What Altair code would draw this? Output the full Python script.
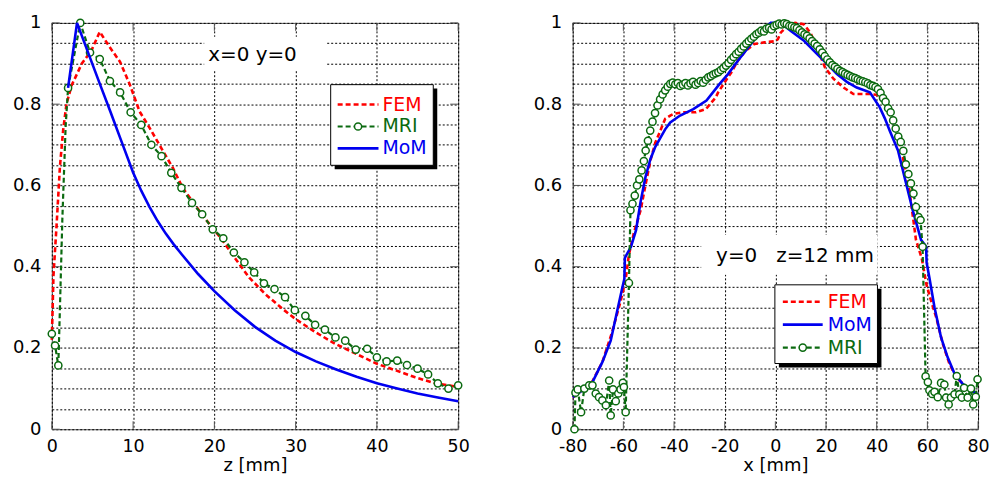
import altair as alt
import pandas as pd

# ---------------- left panel: profile along z at x=0, y=0 ----------------
FEM_L_Z = [0.0, 0.2, 0.6, 1.0, 1.4, 1.8, 2.45, 3.7, 4.9, 5.9, 7.1, 8.4, 9.6, 10.8, 12.05,
           13.7, 14.9, 16.1, 18.6, 21.0, 22.2, 24.3, 26.3, 28.4, 30.0, 32.5, 34.9, 37.4,
           40.0, 42.3, 44.7, 47.2, 50.0]
FEM_L_V = [0.22, 0.377, 0.507, 0.647, 0.737, 0.80, 0.847, 0.90, 0.933, 0.978, 0.941, 0.904,
           0.848, 0.782, 0.741, 0.684, 0.643, 0.594, 0.525, 0.465, 0.43, 0.373, 0.332, 0.296,
           0.271, 0.238, 0.21, 0.186, 0.161, 0.145, 0.128, 0.113, 0.104]

MRI_L_Z = [0.0, 0.4, 0.8, 1.0, 1.3, 1.7, 2.0, 3.5, 4.7, 5.9, 7.15, 8.4, 9.7, 11.0, 12.25,
           13.5, 14.7, 15.95, 17.25, 18.5, 19.8, 21.1, 22.4, 23.7, 24.9, 26.1, 27.4, 28.7,
           29.9, 31.2, 32.4, 33.6, 34.9, 36.1, 37.4, 38.8, 40.0, 41.2, 42.5, 43.7, 45.0,
           46.3, 47.5, 48.8, 50.0]
MRI_L_V = [0.235, 0.206, 0.157, 0.30, 0.52, 0.745, 0.84, 1.0, 0.927, 0.911, 0.857, 0.829,
           0.78, 0.749, 0.70, 0.672, 0.631, 0.594, 0.557, 0.529, 0.492, 0.47, 0.435, 0.411,
           0.386, 0.359, 0.345, 0.325, 0.293, 0.279, 0.257, 0.245, 0.226, 0.218, 0.196,
           0.198, 0.177, 0.167, 0.169, 0.158, 0.149, 0.135, 0.113, 0.10, 0.108]
MRI_L_MARK = [1, 1, 1, 0, 0, 0, 1, 1, 1, 1, 1, 1, 1, 1, 1, 1, 1, 1, 1, 1, 1, 1, 1, 1, 1,
              1, 1, 1, 1, 1, 1, 1, 1, 1, 1, 1, 1, 1, 1, 1, 1, 1, 1, 1, 1]

MOM_L_Z = [2.0, 3.1, 4.5, 6.0, 7.2, 8.5, 10.0, 11.0, 12.0, 13.0, 14.0, 15.0, 16.0, 18.0,
           20.0, 22.5, 25.0, 27.5, 30.0, 32.5, 35.0, 37.5, 40.0, 42.5, 45.0, 47.5, 50.0]
MOM_L_V = [0.84, 1.0, 0.925, 0.845, 0.782, 0.712, 0.632, 0.587, 0.548, 0.513, 0.482, 0.455,
           0.43, 0.382, 0.34, 0.293, 0.252, 0.218, 0.19, 0.167, 0.147, 0.129, 0.113, 0.1,
           0.088, 0.078, 0.069]

# ---------------- right panel: profile along x at y=0, z=12 mm ----------------
FEM_R_X = [-80, -76.1, -72.2, -68.3, -64.4, -61.1, -59.1, -57.8, -55.9, -53.2, -51.3, -49.3,
           -47.4, -45.4, -43.5, -41.5, -40.2, -36.3, -31.3, -27.4, -23.5, -22.6, -20.0,
           -17.4, -14.8, -12.0, -8.3, -4.4, 0.0, 1.0, 2.1, 4.8, 7.8, 11.2, 13.9, 17.0, 19.6,
           23.0, 26.9, 30.8, 34.7, 37.3, 40.0, 42.5, 44.5, 46.4, 48.4, 50.3, 52.9, 55.5,
           57.8, 59.6, 61.5, 63.5, 66.1, 68.7, 71.3, 74.0, 77.0, 80]
FEM_R_V = [0.078, 0.097, 0.118, 0.165, 0.24, 0.315, 0.368, 0.43, 0.482, 0.539, 0.60, 0.662,
           0.705, 0.735, 0.764, 0.772, 0.776, 0.78, 0.78, 0.788, 0.817, 0.829, 0.854, 0.878,
           0.907, 0.93, 0.948, 0.952, 0.955, 0.96, 0.976, 0.993, 1.0, 0.997, 0.975, 0.93,
           0.89, 0.862, 0.841, 0.825, 0.825, 0.825, 0.823, 0.809, 0.785, 0.752, 0.715, 0.67,
           0.588, 0.466, 0.42, 0.357, 0.315, 0.275, 0.21, 0.161, 0.128, 0.112, 0.097, 0.086]

MOM_R_X = [-80, -76.1, -72.2, -68.3, -65.0, -62.4, -60.4, -59.6, -59.4, -57.0, -55.0, -53.2,
           -51.3, -49.3, -47.4, -45.4, -43.5, -41.5, -37.6, -32.4, -27.2, -22.0, -18.7,
           -14.8, -9.6, -5.7, -1.8, 2.2, 6.1, 11.3, 16.5, 20.4, 24.3, 28.2, 32.1, 37.3,
           41.2, 43.2, 45.1, 48.4, 51.6, 54.2, 57.5, 59.5, 59.7, 60.8, 62.8, 65.4, 68.0,
           70.7, 73.9, 77.2, 80]
MOM_R_V = [0.079, 0.096, 0.116, 0.165, 0.218, 0.292, 0.349, 0.37, 0.422, 0.449, 0.49, 0.56,
           0.62, 0.665, 0.695, 0.717, 0.738, 0.755, 0.772, 0.788, 0.809, 0.85, 0.874, 0.907,
           0.948, 0.98, 1.0, 1.0, 0.98, 0.956, 0.923, 0.899, 0.874, 0.855, 0.841, 0.829,
           0.792, 0.765, 0.735, 0.686, 0.605, 0.539, 0.466, 0.449, 0.41, 0.373, 0.30, 0.226,
           0.177, 0.137, 0.112, 0.096, 0.086]

MRI_R_X = [-79.3, -78.9, -78.0, -76.7, -75.4, -73.5, -72.2, -70.9, -69.6, -68.3, -66.9,
           -65.6, -65.0, -64.1, -63.0, -62.0, -61.1, -60.2, -59.8, -59.1,
           -57.8, -57.2, -56.4, -55.5, -54.6, -53.7, -52.8, -51.9, -51.2, -50.3, -49.4,
           -48.5, -47.5, -46.5, -45.5, -44.5, -43.5, -42.5, -41.5, -40.5, -39.5, -38.5,
           -37.5, -36.5, -35.5, -34.5, -33.5, -32.5, -31.5, -30.5, -29.5, -28.5, -27.5,
           -26.5, -25.5, -24.5, -23.5, -22.5, -21.5, -20.5, -19.5, -18.5, -17.5, -16.5,
           -15.5, -14.5, -13.5, -12.5, -11.5, -10.5, -9.5, -8.5, -7.5, -6.5, -5.5, -4.5,
           -3.5, -2.5, -1.5, -0.5, 0.5, 1.5, 2.5, 3.5, 4.5, 5.5, 6.5, 7.5, 8.5, 9.5, 10.5,
           11.5, 12.5, 13.5, 14.5, 15.5, 16.5, 17.5, 18.5, 19.5, 20.5, 21.5, 22.5, 23.5,
           24.5, 25.5, 26.5, 27.5, 28.5, 29.5, 30.5, 31.5, 32.5, 33.5, 34.5, 35.5, 36.5,
           37.5, 38.5, 39.5, 40.5, 41.5, 42.5, 43.5, 44.5, 45.5, 46.5, 47.5, 48.5, 49.5,
           50.5, 51.5, 52.5, 53.5, 54.5, 55.5, 56.5, 57.3, 58.1,
           59.3, 60.2, 60.8, 61.9, 62.8, 64.1, 65.4, 66.7, 67.4, 68.4, 69.3, 70.7, 71.6,
           72.6, 73.6, 74.5, 75.9, 77.2, 78.1, 79.1, 79.8]
MRI_R_V = [0.0, 0.09, 0.098, 0.042, 0.10, 0.108, 0.108, 0.088, 0.079, 0.071, 0.059,
           0.12, 0.034, 0.098, 0.069, 0.088, 0.098, 0.114, 0.104, 0.042,
           0.36, 0.539, 0.555, 0.575, 0.60, 0.615, 0.637, 0.66, 0.686, 0.71, 0.735,
           0.757, 0.778, 0.797, 0.812, 0.824, 0.834, 0.843, 0.85, 0.853, 0.849, 0.852,
           0.845, 0.848, 0.852, 0.846, 0.851, 0.855, 0.848, 0.852, 0.857, 0.853, 0.86,
           0.866, 0.869, 0.873, 0.876, 0.879, 0.884, 0.889, 0.895, 0.901, 0.909, 0.916,
           0.923, 0.929, 0.936, 0.942, 0.949, 0.955, 0.961, 0.966, 0.972, 0.976, 0.981, 0.979,
           0.986, 0.988, 0.984, 0.992, 0.995, 0.998, 0.996, 0.999, 0.997, 0.993, 0.992, 0.989,
           0.987, 0.982, 0.977, 0.972, 0.968, 0.962, 0.955, 0.949, 0.943, 0.935, 0.927,
           0.918, 0.91, 0.903, 0.896, 0.892, 0.887, 0.882, 0.879, 0.875, 0.872, 0.869,
           0.866, 0.864, 0.861, 0.858, 0.856, 0.854, 0.851, 0.847, 0.845, 0.842, 0.837,
           0.828, 0.815, 0.806, 0.79, 0.78, 0.76, 0.74, 0.72, 0.707, 0.685, 0.652, 0.628,
           0.605, 0.58, 0.547, 0.522, 0.515, 0.449,
           0.13, 0.116, 0.096, 0.087, 0.092, 0.079, 0.114, 0.11, 0.078, 0.061, 0.078, 0.086,
           0.131, 0.086, 0.078, 0.102, 0.078, 0.10, 0.061, 0.08, 0.123]

# ---------------- axes, text ----------------
Y_GRID = [0, 0.05, 0.1, 0.15, 0.2, 0.25, 0.3, 0.35, 0.4, 0.45, 0.5, 0.55, 0.6, 0.65, 0.7,
          0.75, 0.8, 0.85, 0.9, 0.95, 1]
Y_LABELS = ["0", "0.2", "0.4", "0.6", "0.8", "1"]
Y_MAJOR = [0, 0.2, 0.4, 0.6, 0.8, 1]
X_MAJOR_L = [0, 10, 20, 30, 40, 50]
X_MAJOR_R = [-80, -60, -40, -20, 0, 20, 40, 60, 80]
X_TITLE_L = "z [mm]"
X_TITLE_R = "x [mm]"
NB = "\u00a0"
NOTE_L = "x=0" + NB + "y=0"
NOTE_R = "y=0" + NB * 3 + "z=12" + NB + "mm"
LEGEND_L = ["FEM", "MRI", "MoM"]
LEGEND_R = ["FEM", "MoM", "MRI"]

RED = "#ff0000"
GREEN = "#0b6a10"
BLUE = "#0000f0"
FRAME = "#555555"
FONT = "DejaVu Sans"
YLABEL_FS = 18
XLABEL_FS = 17.5
TITLE_FS = 18
NOTE_FS = 20
LEG_FS = 19
TICK = 8
STYLE = {
    "FEM": dict(color=RED, dash=[5, 3], width=2.6, marker=False),
    "MRI": dict(color=GREEN, dash=[5, 3], width=2.2, marker=True),
    "MoM": dict(color=BLUE, dash=None, width=2.6, marker=False),
}
ONE = pd.DataFrame({"k": [0]})


def line_mark(name):
    st = STYLE[name]
    kw = dict(color=st["color"], strokeWidth=st["width"])
    if st["dash"]:
        kw["strokeDash"] = st["dash"]
    return kw


def point_mark(name):
    return dict(shape="circle", size=52, filled=True, fill="white",
                stroke=STYLE[name]["color"], strokeWidth=1.5, opacity=1)


def panel(curves, xdom, xmajor, xtitle, W, H, note, note_box, note_xy,
          legend_order, legend_box, legend_rows, legend_line, legend_text_x):
    xs = alt.Scale(domain=xdom, nice=False, zero=False)
    ys = alt.Scale(domain=[0, 1], nice=False, zero=False)
    xax = alt.Axis(values=xmajor, title=xtitle, labelExpr="'' + datum.value",
                   labelFlush=False, labelOverlap=False, labelPadding=8,
                   labelFontSize=XLABEL_FS, titlePadding=2, grid=True)
    lab_list = ",".join("'%s'" % s for s in Y_LABELS)
    yax = alt.Axis(values=Y_GRID, format=".2~f", title=None, grid=True,
                   labelExpr="indexof([%s], datum.label) >= 0 ? datum.label : ''" % lab_list,
                   labelPadding=11, labelOverlap=False, labelFontSize=YLABEL_FS)

    def X():
        return alt.X("x:Q", scale=xs, axis=xax)

    def Y():
        return alt.Y("y:Q", scale=ys, axis=yax)

    layers = []
    yt = pd.DataFrame({"y": Y_MAJOR})
    xt = pd.DataFrame({"x": xmajor})
    layers.append(alt.Chart(yt).mark_rule(color=FRAME).encode(
        y=Y(), x=alt.value(0), x2=alt.value(TICK)))
    layers.append(alt.Chart(yt).mark_rule(color=FRAME).encode(
        y=Y(), x=alt.value(W - TICK), x2=alt.value(W)))
    layers.append(alt.Chart(xt).mark_rule(color=FRAME).encode(
        x=X(), y=alt.value(0), y2=alt.value(TICK)))
    layers.append(alt.Chart(xt).mark_rule(color=FRAME).encode(
        x=X(), y=alt.value(H - TICK), y2=alt.value(H)))

    for name, xv, vv, marks in curves:
        df = pd.DataFrame({"x": xv, "y": vv, "i": list(range(len(xv)))})
        layers.append(alt.Chart(df).mark_line(**line_mark(name)).encode(
            x=X(), y=Y(), order="i:Q"))
        if STYLE[name]["marker"]:
            dm = df if marks is None else df[[m == 1 for m in marks]]
            layers.append(alt.Chart(dm).mark_point(**point_mark(name)).encode(x=X(), y=Y()))

    # annotation with white background
    bx0, by0, bx1, by1 = note_box
    layers.append(alt.Chart(ONE).mark_rect(fill="white", opacity=1).encode(
        x=alt.value(bx0), x2=alt.value(bx1), y=alt.value(by0), y2=alt.value(by1)))
    layers.append(alt.Chart(ONE).mark_text(align="left", baseline="middle", font=FONT,
                                           fontSize=NOTE_FS, color="black").encode(
        x=alt.value(note_xy[0]), y=alt.value(note_xy[1]), text=alt.value(note)))

    # legend box with shadow
    lx0, ly0, lx1, ly1 = legend_box
    layers.append(alt.Chart(ONE).mark_rect(fill="black", opacity=1).encode(
        x=alt.value(lx0 + 4), x2=alt.value(lx1 + 4), y=alt.value(ly0 + 4), y2=alt.value(ly1 + 4)))
    layers.append(alt.Chart(ONE).mark_rect(fill="white", stroke="black", strokeWidth=1,
                                           opacity=1).encode(
        x=alt.value(lx0), x2=alt.value(lx1), y=alt.value(ly0), y2=alt.value(ly1)))
    for name, ry in zip(legend_order, legend_rows):
        layers.append(alt.Chart(ONE).mark_rule(**line_mark(name)).encode(
            x=alt.value(legend_line[0]), x2=alt.value(legend_line[1]), y=alt.value(ry)))
        if STYLE[name]["marker"]:
            layers.append(alt.Chart(ONE).mark_point(**point_mark(name)).encode(
                x=alt.value((legend_line[0] + legend_line[1]) / 2), y=alt.value(ry)))
        layers.append(alt.Chart(ONE).mark_text(align="left", baseline="middle", font=FONT,
                                               fontSize=LEG_FS, color=STYLE[name]["color"]).encode(
            x=alt.value(legend_text_x), y=alt.value(ry), text=alt.value(name)))

    return alt.layer(*layers).properties(width=W, height=H)


left = panel(
    [("FEM", FEM_L_Z, FEM_L_V, None),
     ("MRI", MRI_L_Z, MRI_L_V, MRI_L_MARK),
     ("MoM", MOM_L_Z, MOM_L_V, None)],
    [0, 50], X_MAJOR_L, X_TITLE_L, 408, 408,
    NOTE_L, (153, 14, 276, 48), (157, 32),
    LEGEND_L, (280, 62, 383, 143), [82, 104, 126], (287, 328), 332)

right = panel(
    [("FEM", FEM_R_X, FEM_R_V, None),
     ("MoM", MOM_R_X, MOM_R_V, None),
     ("MRI", MRI_R_X, MRI_R_V, None)],
    [-80, 80], X_MAJOR_R, X_TITLE_R, 407, 408,
    NOTE_R, (129, 213, 306, 253), (144, 234),
    LEGEND_R, (203, 263, 306, 342), [280, 303, 326], (211, 251), 256)

chart = alt.hconcat(left, right, spacing=62).properties(
    padding={"left": 3, "top": 4, "right": 0, "bottom": 0}
).configure_view(stroke=FRAME, strokeWidth=1).configure_axis(
    labelFont=FONT, labelFontSize=YLABEL_FS, labelColor="black",
    titleFont=FONT, titleFontSize=TITLE_FS, titleFontWeight="normal", titleColor="black",
    gridColor="black", gridDash=[2, 2], gridOpacity=1, gridWidth=1,
    domain=False, ticks=False)

chart.save("out.html", embed_options={"renderer": "svg", "actions": False})
